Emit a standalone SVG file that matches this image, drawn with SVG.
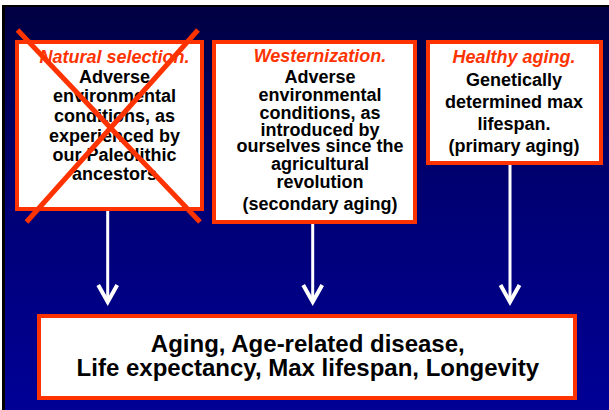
<svg xmlns="http://www.w3.org/2000/svg" width="609" height="410" viewBox="0 0 609 410">
  <defs>
    <linearGradient id="bg" x1="0" y1="0" x2="0" y2="1">
      <stop offset="0" stop-color="#000042"/>
      <stop offset="0.45" stop-color="#000072"/>
      <stop offset="1" stop-color="#000096"/>
    </linearGradient>
    <marker id="arrow" markerUnits="userSpaceOnUse" viewBox="-25 -15 30 30" markerWidth="30" markerHeight="30" refX="0" refY="0" orient="auto">
      <path d="M-17,-9.5 L0,0 L-17,9.5" fill="none" stroke="#ffffff" stroke-width="4" stroke-linejoin="miter"/>
    </marker>
  </defs>
  <style>
    .box { fill: #ffffff; stroke: #ff3300; stroke-width: 4; }
    .t { font-family: "Liberation Sans", Arial, sans-serif; font-weight: bold; font-size: 18px; fill: #000000; text-anchor: middle; }
    .title { font-style: italic; fill: #ff3300; }
    .big { font-size: 24px; }
    .conn { stroke: #ffffff; stroke-width: 3; fill: none; marker-end: url(#arrow); }
    .cross { stroke: #ff3300; stroke-width: 5; stroke-linecap: butt; }
  </style>
  <rect x="0" y="0" width="609" height="410" fill="#ffffff"/>
  <rect x="2" y="5" width="607" height="405" fill="#000000"/>
  <rect x="5" y="7" width="604" height="403" fill="url(#bg)"/>

  <g id="node-natural-selection">
    <rect class="box" x="17" y="42" width="185" height="167"/>
    <text class="t title" x="114.5" y="63.3">Natural selection.</text>
    <text class="t" x="114.5" y="83.3">Adverse</text>
    <text class="t" x="114.5" y="102.3">environmental</text>
    <text class="t" x="114.5" y="121.7">conditions, as</text>
    <text class="t" x="114.5" y="141.7">experienced by</text>
    <text class="t" x="114.5" y="160.7">our Paleolithic</text>
    <text class="t" x="114.5" y="180">ancestors</text>
    <line class="cross" x1="17.5" y1="30" x2="200" y2="222"/>
    <line class="cross" x1="198" y1="30" x2="26.5" y2="222"/>
  </g>

  <g id="node-westernization">
    <rect class="box" x="214" y="42" width="201" height="180"/>
    <text class="t title" x="320" y="61.7">Westernization.</text>
    <text class="t" x="320" y="83.3">Adverse</text>
    <text class="t" x="320" y="100.5">environmental</text>
    <text class="t" x="320" y="118.5">conditions, as</text>
    <text class="t" x="320" y="136">introduced by</text>
    <text class="t" x="320" y="152">ourselves since the</text>
    <text class="t" x="320" y="170">agricultural</text>
    <text class="t" x="320" y="187.5">revolution</text>
    <text class="t" x="320" y="210">(secondary aging)</text>
  </g>

  <g id="node-healthy-aging">
    <rect class="box" x="428" y="42" width="173" height="121"/>
    <text class="t title" x="514" y="63.3">Healthy aging.</text>
    <text class="t" x="514" y="86">Genetically</text>
    <text class="t" x="514" y="108.3">determined max</text>
    <text class="t" x="514" y="130">lifespan.</text>
    <text class="t" x="514" y="151.7">(primary aging)</text>
  </g>

  <g id="node-outcomes">
    <rect class="box" x="39" y="316" width="536" height="82"/>
    <text class="t big" x="307.8" y="351.7">Aging, Age-related disease,</text>
    <text class="t big" x="307.8" y="376">Life expectancy, Max lifespan, Longevity</text>
  </g>

  <g id="connectors">
    <line class="conn" x1="107.7" y1="211" x2="107.7" y2="302"/>
    <line class="conn" x1="312.7" y1="224" x2="312.7" y2="302"/>
    <line class="conn" x1="510" y1="165" x2="510" y2="302"/>
  </g>
</svg>
